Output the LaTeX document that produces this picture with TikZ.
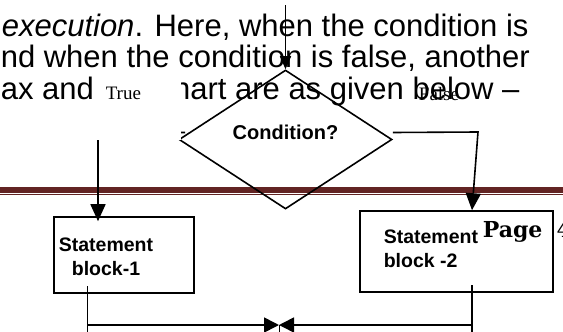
\documentclass[tikz,border=0pt]{standalone}
\usepackage{fontspec}
\setmainfont{Liberation Serif}
\setsansfont{Liberation Sans}
\newfontfamily\footfont{DejaVu Serif}
\usetikzlibrary{shapes.geometric,arrows.meta}
\definecolor{rulered}{HTML}{622423}

\tikzset{
  bodyline/.style={anchor=base west,inner sep=0pt,font=\sffamily\fontsize{31}{31}\selectfont},
  decision/.style={diamond,draw,minimum width=213pt,minimum height=139pt,inner sep=0pt,
    font=\sffamily\bfseries\fontsize{20}{22}\selectfont},
  block/.style={rectangle,draw,inner sep=0pt},
  blocktext/.style={inner sep=0pt,font=\sffamily\bfseries\fontsize{19.5}{24}\selectfont},
  branch/.style={inner sep=0pt,font=\rmfamily\fontsize{19}{19}\selectfont},
  flow/.style={-{Triangle[length=17pt,width=15pt]}}
}

\begin{document}
\begin{tikzpicture}[x=1pt,y=-1pt,line width=1.6pt]
  \clip (0,0) rectangle (563,332);

  % running text of the page behind the chart
  \node[bodyline] (txt1) at (1,36) {\textit{execution}. Here, when the condition is};
  \node[bodyline] (txt2) at (0,67.5) {nd when the condition is false, another};
  \node[bodyline] (txt3) at (0,99) {ax and flowchart are as given below --};

  % header rule
  \fill[rulered] (0,187) rectangle (563,193);
  \fill[rulered] (0,194.2) rectangle (563,195.3);

  % chart
  \coordinate (start) at (285.5,5);
  \node[decision] (cond) at (285.5,139.5) {\raisebox{0pt}[0pt][0pt]{Condition?}};
  \node[block,minimum width=140pt,minimum height=76pt] (block1) at (124,255) {};
  \node[blocktext,align=center] (b1text) at (106,257) {Statement\\block-1};
  \node[block,minimum width=193pt,minimum height=81pt] (block2) at (456.5,251.5) {};
  \node[blocktext,align=left,anchor=north west] (b2text) at (383,229) {Statement\\block -2};
  \node[anchor=base west,inner sep=0pt,font=\footfont\bfseries\fontsize{22}{22}\selectfont]
    (pagenum) at (482,237) {Page};
  \node[anchor=base west,inner sep=0pt,font=\footfont\fontsize{22}{22}\selectfont]
    (pagedigit) at (556,237) {4};

  \draw[-{Triangle[length=13pt,width=11pt]}] (start) -- (cond.north);

  \coordinate (yesturn) at (98,132);
  \coordinate (noturn) at (478,132);
  \draw[flow,shorten >=-5pt] ([xshift=7pt,yshift=7pt]cond.west) -- (yesturn)
    -- (yesturn |- block1.north);
  \draw[flow] ([yshift=7pt]cond.east) -- (noturn)
    -- ([xshift=15.5pt]block2.north);

  \coordinate (b1out) at (87.5,286);
  \coordinate (b2out) at (472,285);
  \coordinate (merge) at (279,325);
  \draw (b1out) -- (b1out |- 0,340);
  \draw (b2out) -- (b2out |- 0,340);
  \draw[-{Triangle[length=15pt,width=15pt]}] (b1out |- merge) -- (merge);
  \draw[-{Triangle[length=15pt,width=15pt]}] (b2out |- merge) -- (merge);
  \draw[line width=1pt] (merge) -- ++(0,10);

  % branch labels, the left one on a white patch
  \node[branch,fill=white,anchor=north west,text width=85pt,align=left,
        text height=27pt,text depth=40pt] (yes) at (95,72) {\hspace*{10pt}True};
  \node[branch,anchor=base] (no) at (439,100) {False};
\end{tikzpicture}
\end{document}
